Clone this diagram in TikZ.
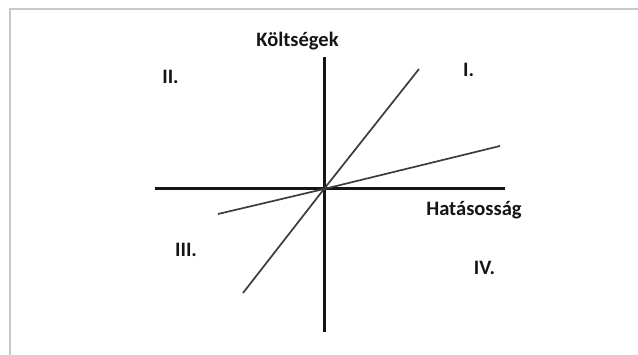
\documentclass[tikz,border=0pt]{standalone}
\usepackage{fontspec}
\setmainfont{Carlito}
\definecolor{framegray}{HTML}{C8C8C8}
\definecolor{axisblack}{HTML}{151515}
\definecolor{linegray}{HTML}{3C3C3C}
\begin{document}
\begin{tikzpicture}[x=1pt,y=-1pt,
  axisline/.style={draw=axisblack,line width=3pt},
  ratioline/.style={draw=linegray,line width=1.7pt},
  lbl/.style={font=\fontsize{20.5}{24}\selectfont\bfseries,text=axisblack,anchor=base,inner sep=0pt},
  frameline/.style={draw=framegray,line width=2pt}]
\useasboundingbox (0,0) rectangle (638,355);
\fill[white] (0,0) rectangle (638,355);
% frame (top and left only)
\coordinate (fa) at (9.5,355);
\coordinate (fb) at (9.5,9.5);
\coordinate (fc) at (638,9.5);
\draw[frameline] (fa) -- (fb) -- (fc);
% axes
\coordinate (O) at (324,189);
\coordinate (vt) at (324,57);
\coordinate (vb) at (324,332);
\coordinate (hl) at (155,189);
\coordinate (hr) at (505,189);
\draw[axisline] (vt) -- (vb);
\draw[axisline] (hl) -- (hr);
% ratio lines
\coordinate (s1) at (419,69);
\coordinate (s2) at (243,293);
\coordinate (t1) at (500,146);
\coordinate (t2) at (218,214);
\draw[ratioline] (s2) -- (O) -- (s1);
\draw[ratioline] (t2) -- (O) -- (t1);
% labels
\node[lbl] (ky) at (297.5,46.7) {Költségek};
\node[lbl] (kx) at (474,216) {Hatásosság};
\node[lbl] (q1) at (468.5,76.7) {I.};
\node[lbl] (q2) at (170.5,83.3) {II.};
\node[lbl] (q3) at (186,257) {III.};
\node[lbl] (q4) at (484.5,275) {IV.};
\end{tikzpicture}
\end{document}
